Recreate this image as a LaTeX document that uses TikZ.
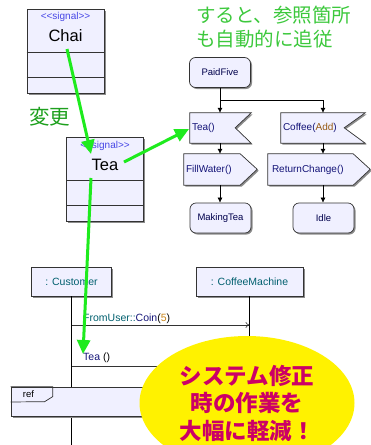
\documentclass[tikz,border=0pt]{standalone}
\usepackage{fontspec}
\setmainfont{Liberation Sans}[Ligatures=TeXOff]
\newfontfamily\jpfont{Noto Sans CJK JP}
\usetikzlibrary{positioning,shapes.geometric,shadows,arrows.meta}

\definecolor{boxfill}{RGB}{240,240,255}
\definecolor{hilite}{RGB}{30,235,30}
\definecolor{notegreen}{RGB}{60,200,60}
\definecolor{changegreen}{RGB}{30,160,30}
\definecolor{stereoblue}{RGB}{70,70,230}
\definecolor{opblue}{RGB}{20,20,120}
\definecolor{argbrown}{RGB}{150,90,20}
\definecolor{lifeteal}{RGB}{0,95,110}
\definecolor{numorange}{RGB}{200,130,20}
\definecolor{memo}{RGB}{204,0,102}

\begin{document}
\begin{tikzpicture}[x=1pt,y=-1pt,
  umlbox/.style={draw=black!80, line width=0.7pt, fill=boxfill,
    drop shadow={shadow xshift=1.5pt, shadow yshift=-1.5pt, fill=black!45, opacity=1}},
  classbox/.style={umlbox, minimum width=77pt, minimum height=84pt, inner sep=0pt},
  sep/.style={draw=black!80, line width=0.7pt},
  stereo/.style={font=\fontsize{10}{12}\selectfont, text=stereoblue, inner sep=0pt},
  classname/.style={font=\fontsize{16.5}{18}\selectfont, inner sep=0pt},
  state/.style={umlbox, rounded corners=6pt, minimum width=61pt, minimum height=30pt,
    inner sep=0pt, font=\fontsize{9.5}{11}\selectfont, text=black!70!blue},
  sigbody/.style={inner sep=0pt},
  oplabel/.style={anchor=west, xshift=2pt, inner sep=0pt, text=opblue,
    font=\fontsize{10}{12}\selectfont},
  flow/.style={-{Latex[length=5pt,width=5pt]}, line width=0.6pt},
  lifelabel/.style={text=lifeteal, font=\fontsize{10.5}{12}\selectfont},
  life/.style={line width=0.6pt},
  msg/.style={-{To[length=4pt,width=6pt]}, line width=0.6pt, black!80},
  msglabel/.style={anchor=west, inner sep=0pt, text=opblue, font=\fontsize{10.5}{12}\selectfont},
  hint/.style={-{Triangle[length=14pt,width=13pt]}, line width=3pt, hilite}]

  \useasboundingbox (0,0) rectangle (371,445);

  % signal classes
  \node[classbox] (chai) at (65.5,51) {};
  \draw[sep] (chai.west |- 0,52) -- (chai.east |- 0,52);
  \draw[sep] (chai.west |- 0,77) -- (chai.east |- 0,77);
  \node[stereo] (chaiStereo) at (65.5,17) {<<signal>>};
  \node[classname] (chaiName) at (65.5,36) {Chai};

  \node[classbox] (tea) at (105,179) {};
  \draw[sep] (tea.west |- 0,180) -- (tea.east |- 0,180);
  \draw[sep] (tea.west |- 0,205) -- (tea.east |- 0,205);
  \node[stereo] (teaStereo) at (105,146) {<<signal>>};
  \node[classname] (teaName) at (105,165) {Tea};

  % state machine
  \node[state] (paid) at (220,72.5) {PaidFive};

  \node[sigbody, minimum width=61pt, minimum height=30pt] (teaSig) at (220.5,128) {};
  \path[umlbox] (teaSig.north west) -- (teaSig.north east) -- ++(-16,15)
    -- (teaSig.south east) -- (teaSig.south west) -- cycle;
  \node[oplabel] (teaOp) at (teaSig.west) {Tea()};

  \node[sigbody, minimum width=84pt, minimum height=30pt] (coffeeSig) at (323,128) {};
  \path[umlbox] (coffeeSig.north west) -- (coffeeSig.north east) -- ++(-21,15)
    -- (coffeeSig.south east) -- (coffeeSig.south west) -- cycle;
  \node[oplabel] (coffeeOp) at (coffeeSig.west) {Coffee(\textcolor{argbrown}{Add})};

  \node[sigbody, minimum width=56pt, minimum height=31pt] (fillSig) at (212,169.5) {};
  \path[umlbox] (fillSig.north west) -- (fillSig.north east) -- ++(17,15.5)
    -- (fillSig.south east) -- (fillSig.south west) -- cycle;
  \node[oplabel] (fillOp) at (fillSig.west) {FillWater()};

  \node[sigbody, minimum width=85pt, minimum height=31pt] (changeSig) at (310.5,169.5) {};
  \path[umlbox] (changeSig.north west) -- (changeSig.north east) -- ++(17,15.5)
    -- (changeSig.south east) -- (changeSig.south west) -- cycle;
  \node[oplabel, xshift=2pt] (changeOp) at (changeSig.west) {ReturnChange()};

  \node[state] (making) at (220.5,218) {MakingTea};
  \node[state] (idle) at (323.5,218) {Idle};

  \draw[flow] (paid.south) -- (paid.south |- teaSig.north);
  \draw[flow] (paid.south) -- ++(0,12) -| (coffeeSig.north);
  \draw[flow] (paid.south |- teaSig.south) -- (paid.south |- fillSig.north);
  \draw[flow] (coffeeSig.south) -- (coffeeSig.south |- changeSig.north);
  \draw[flow] (paid.south |- fillSig.south) -- (paid.south |- making.north);
  \draw[flow] (coffeeSig.south |- changeSig.south) -- (coffeeSig.south |- idle.north);

  % sequence
  \node[umlbox, minimum width=80pt, minimum height=29pt, lifelabel] (cust) at (71.5,281.5) {: Customer};
  \node[umlbox, minimum width=107pt, minimum height=29pt, lifelabel] (machine) at (249.5,281.5) {: CoffeeMachine};
  \draw[life] (cust.south) -- (cust.south |- 0,445);
  \draw[life] (machine.south) -- (machine.south |- 0,445);
  \draw[msg] (cust.south |- 0,325) -- (machine.south |- 0,325);
  \node[msglabel] (coinMsg) at (83,318.5) {\textcolor{lifeteal}{FromUser::}Coin\textcolor{black}{(}\textcolor{numorange}{5}\textcolor{black}{)}};
  \draw[msg] (cust.south |- 0,366) -- (machine.south |- 0,366);
  \node[msglabel] (teaMsg) at (83,358) {Tea \textcolor{black}{()}};
  \node[umlbox, minimum width=309pt, minimum height=29pt] (refbox) at (165.5,401.5) {};
  \draw[sep] (refbox.north west) -- ++(42,0) -- ++(0,10) -- ++(-8,5) -- (refbox.west |- 0,402);
  \node[font=\fontsize{9.5}{11}\selectfont] (refTag) at (28.5,394) {ref};

  \node[ellipse, fill=yellow, minimum width=215pt, minimum height=134pt, inner sep=0pt,
    align=center, text=memo, font=\jpfont\bfseries\fontsize{22.5}{27.5}\selectfont]
    (memoNote) at (247,403) {システム修正\\時の作業を\\大幅に軽減！};

  % notes and hints
  \node[anchor=west, align=left, inner sep=0pt, text=notegreen,
    font=\jpfont\fontsize{19.5}{24}\selectfont] (follow) at (196,27.5) {すると、参照箇所\\も自動的に追従};
  \node[text=changegreen, inner sep=0pt, font=\jpfont\fontsize{20.5}{24}\selectfont] (changed) at (49.5,116.5) {変更};

  \coordinate (chaiOut) at (67,49);
  \coordinate (teaIn) at (91,154);
  \coordinate (teaOut) at (124,162);
  \coordinate (sigIn) at (189,129);
  \coordinate (teaDown) at (91,178);
  \coordinate (msgIn) at (83,354);
  \draw[hint] (chaiOut) -- (teaIn);
  \draw[hint] (teaOut) -- (sigIn);
  \draw[hint] (teaDown) -- (msgIn);
\end{tikzpicture}
\end{document}
